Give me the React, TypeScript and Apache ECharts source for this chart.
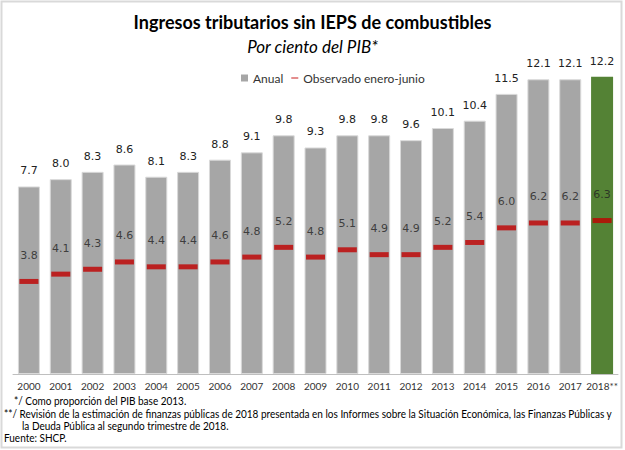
import React, { useEffect, useRef } from "react";
import * as echarts from "echarts";

const years = ["2000","2001","2002","2003","2004","2005","2006","2007","2008","2009","2010","2011","2012","2013","2014","2015","2016","2017","2018**"];
const anual = [7.7, 8.0, 8.3, 8.6, 8.1, 8.3, 8.8, 9.1, 9.8, 9.3, 9.8, 9.8, 9.6, 10.1, 10.4, 11.5, 12.1, 12.1, 12.2];
const eneroJunio = [3.8, 4.1, 4.3, 4.6, 4.4, 4.4, 4.6, 4.8, 5.2, 4.8, 5.1, 4.9, 4.9, 5.2, 5.4, 6.0, 6.2, 6.2, 6.3];
const titleText = "Ingresos tributarios sin IEPS de combustibles";
const subtitleText = "Por ciento del PIB*";
const notes = [
  "*/ Como proporción del PIB base 2013.",
  "**/ Revisión de la estimación de finanzas públicas de 2018 presentada en los Informes sobre la Situación Económica, las Finanzas Públicas y",
  "la Deuda Pública al segundo trimestre de 2018.",
  "Fuente: SHCP.",
];

export default function App() {
  const ref = useRef<HTMLDivElement>(null);
  useEffect(() => {
    document.body.style.margin = "0";
    const chart = echarts.init(ref.current!, null, { renderer: "svg" });
    const last = anual.length - 1;
    const noteFont = "Lato, sans-serif";
    const noteStyle = (text: string) => ({ text, font: `11px ${noteFont}`, fill: "#000" });
    const sx = 0.91;
    chart.setOption({
      animation: false,
      backgroundColor: "#ffffff",
      title: [
        {
          text: titleText,
          left: "center",
          top: 8,
          textStyle: { fontFamily: "Lato", fontWeight: "bold", fontSize: 18, color: "#000" },
        },
        {
          text: subtitleText,
          left: "center",
          top: 33,
          textStyle: { fontFamily: "Lato", fontStyle: "italic", fontWeight: "normal", fontSize: 17, color: "#000" },
        },
      ],
      legend: {
        top: 67,
        left: 236,
        itemWidth: 7,
        itemHeight: 7,
        itemGap: 8,
        textStyle: { fontFamily: noteFont, fontSize: 12, color: "#333" },
        data: [
          { name: "Anual", icon: "rect" },
          { name: "Observado enero-junio", icon: "path://M0,0H10V1.6H0Z" },
        ],
      },
      grid: { left: 13, right: 7, top: 33, bottom: 76 },
      xAxis: {
        type: "category",
        data: years,
        axisLine: { lineStyle: { color: "#BFBFBF", width: 1 } },
        axisTick: { show: false },
        axisLabel: { interval: 0, fontFamily: noteFont, fontSize: 10, color: "#333", margin: 7 },
      },
      yAxis: { type: "value", min: 0, max: 14, show: false, splitLine: { show: false } },
      series: [
        {
          name: "Anual",
          type: "bar",
          barWidth: 22,
          data: anual.map((v, i) => ({
            value: v,
            itemStyle:
              i === last
                ? { color: "#548235", borderColor: "#548235", borderWidth: 0 }
                : { color: "#A6A6A6", borderColor: "#D9D9D9", borderWidth: 1 },
          })),
          itemStyle: { color: "#A6A6A6" },
          label: {
            show: true,
            position: "top",
            distance: 10,
            fontFamily: "DejaVu Sans",
            fontSize: 11,
            color: "#222",
            formatter: (p: any) => Number(p.value).toFixed(1),
          },
        },
        {
          name: "Observado enero-junio",
          type: "scatter",
          symbol: "rect",
          symbolSize: [19, 5],
          itemStyle: { color: "#C00000" },
          data: eneroJunio,
          z: 5,
          label: {
            show: true,
            position: "top",
            distance: 18,
            fontFamily: "DejaVu Sans",
            fontSize: 11,
            color: "#222",
            formatter: (p: any) => Number(p.value).toFixed(1),
          },
        },
      ],
      graphic: [
        {
          type: "rect",
          shape: { x: 1.5, y: 1.5, width: 620, height: 446 },
          style: { fill: "none", stroke: "#D9D9D9", lineWidth: 2 },
          silent: true,
        },
        { type: "text", x: 14, y: 395, scaleX: sx, style: noteStyle(notes[0]) },
        { type: "text", x: 4, y: 408, scaleX: sx, style: noteStyle(notes[1]) },
        { type: "text", x: 22, y: 420, scaleX: sx, style: noteStyle(notes[2]) },
        { type: "text", x: 4, y: 432, scaleX: sx, style: noteStyle(notes[3]) },
      ],
    });
    return () => chart.dispose();
  }, []);
  return <div ref={ref} style={{ position: "fixed", left: 0, top: 0, width: 625, height: 450 }} />;
}
